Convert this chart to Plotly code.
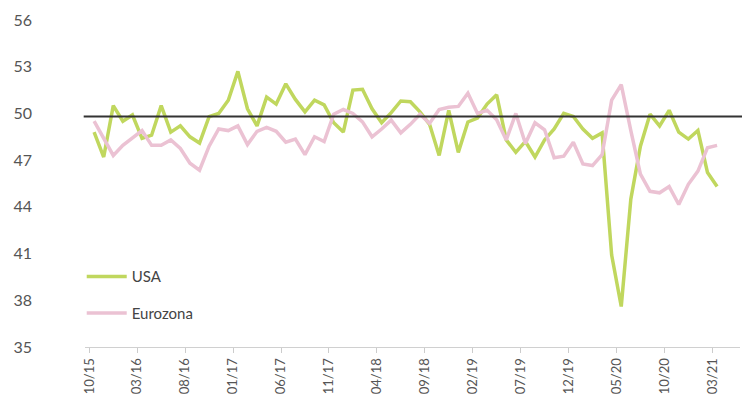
import plotly.graph_objects as go
import pandas as pd

months = [p.strftime("%m/%y") for p in pd.period_range("2015-10", "2021-03", freq="M")]

usa = [48.8, 47.2, 50.5, 49.5, 49.9, 48.4, 48.6, 50.5, 48.8, 49.2,
       48.5, 48.1, 49.8, 50.0, 50.85, 52.7, 50.3, 49.2, 51.05, 50.6,
       51.9, 50.9, 50.1, 50.85, 50.55, 49.4, 48.8, 51.5, 51.55, 50.3,
       49.4, 50.05, 50.8, 50.75, 50.1, 49.3, 47.3, 50.2, 47.5, 49.45,
       49.7, 50.6, 51.2, 48.3, 47.5, 48.2, 47.2, 48.3, 49.0, 50.0,
       49.8, 49.0, 48.4, 48.75, 40.9, 37.6, 44.5, 47.9, 49.95, 49.2,
       50.2, 48.8, 48.35, 48.9, 46.2, 45.3]

eurozona = [49.5, 48.35, 47.3, 47.95, 48.4, 48.9, 47.95, 47.95, 48.3, 47.75,
            46.8, 46.35, 47.9, 49.0, 48.9, 49.2, 48.0, 48.85, 49.1, 48.85,
            48.15, 48.35, 47.35, 48.5, 48.2, 49.95, 50.25, 50.0, 49.46, 48.5,
            49.0, 49.57, 48.75, 49.3, 49.95, 49.36, 50.25, 50.4, 50.45, 51.3,
            50.0, 50.2, 49.6, 48.3, 50.0, 48.07, 49.4, 48.95, 47.15, 47.25,
            48.15, 46.75, 46.65, 47.35, 50.85, 51.85, 48.9, 46.1, 45.0, 44.9,
            45.3, 44.15, 45.45, 46.3, 47.8, 47.95]

reference_level = 49.8
tick_labels = ["10/15", "03/16", "08/16", "01/17", "06/17", "11/17", "04/18",
               "09/18", "02/19", "07/19", "12/19", "05/20", "10/20", "03/21"]
y_ticks = [35, 38, 41, 44, 47, 50, 53, 56]

GREEN = "#C0D75E"
PINK = "#EBC2D3"
TXT = "#555555"

x_idx = list(range(len(months)))

fig = go.Figure()
fig.add_trace(go.Scatter(x=x_idx, y=usa, mode="lines", name="USA",
                         legendgroup="a",
                         line=dict(color=GREEN, width=3.5), customdata=months))
fig.add_trace(go.Scatter(x=x_idx, y=eurozona, mode="lines", name="Eurozona",
                         legendgroup="b",
                         line=dict(color=PINK, width=3.5), customdata=months))

fig.add_shape(type="line", xref="paper", yref="y", x0=-0.002, x1=1.016,
              y0=reference_level, y1=reference_level,
              line=dict(color="#333333", width=2))

fig.update_layout(
    width=742, height=395,
    margin=dict(l=77, r=10, t=12, b=56, autoexpand=False),
    paper_bgcolor="white", plot_bgcolor="white",
    font=dict(family="Lato, 'Open Sans', sans-serif", color=TXT),
    showlegend=True,
    legend=dict(x=-0.005, y=0.265, xanchor="left", yanchor="top",
                traceorder="grouped", tracegroupgap=14,
                font=dict(size=15, color="#444444"),
                bgcolor="rgba(0,0,0,0)", itemwidth=40),
    xaxis=dict(
        automargin=False,
        range=[-0.95, 67.39],
        tickmode="array",
        tickvals=[months.index(l) - 0.5 for l in tick_labels],
        ticktext=tick_labels,
        tickangle=-90,
        ticks="outside", ticklen=5, tickcolor="#cccccc",
        showline=True, linecolor="#d0d0d0", linewidth=1,
        showgrid=False, zeroline=False,
        tickfont=dict(size=13, color=TXT),
    ),
    yaxis=dict(
        automargin=False,
        range=[35, 56],
        tickmode="array", tickvals=y_ticks,
        showgrid=False, zeroline=False, showline=False,
        ticks="", ticklabelstandoff=52,
        tickfont=dict(size=16, color=TXT),
    ),
)

fig.write_html("out.html")
